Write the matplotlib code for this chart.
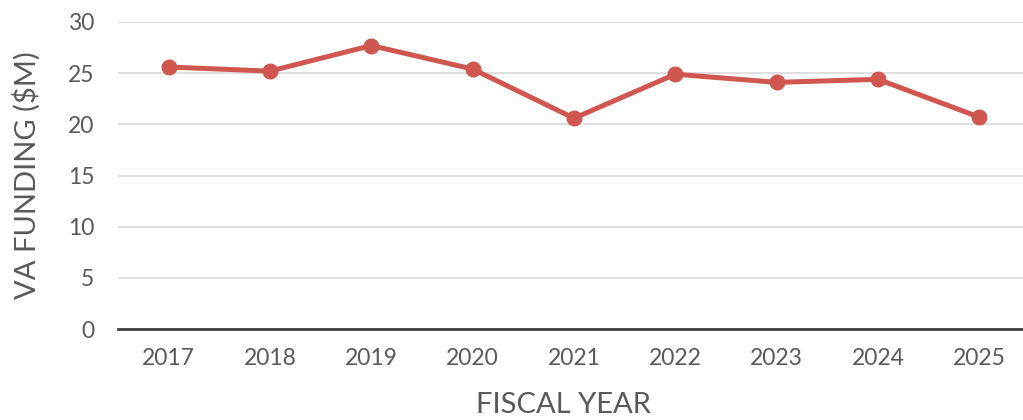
import matplotlib
matplotlib.use('Agg')
import matplotlib.pyplot as plt

plt.rcParams['font.family'] = ['Lato', 'DejaVu Sans']

years = ['2017', '2018', '2019', '2020', '2021', '2022', '2023', '2024', '2025']
funding = [25.6, 25.2, 27.7, 25.4, 20.6, 24.9, 24.1, 24.4, 20.7]

text_color = '#595959'
line_color = '#D0574F'

fig = plt.figure(figsize=(10.23, 4.2), dpi=100)
# axes runs a little past the right edge, like the original
ax = fig.add_axes([118/1023, 91/420, 912/1023, 307/420])

x = range(len(years))
ax.plot(x, funding, color=line_color, linewidth=3.6, marker='o',
        markersize=10.5, solid_capstyle='round', zorder=3)

ax.set_xlim(-0.5, len(years) - 0.5)
ax.set_ylim(0, 30)
ax.set_yticks(range(0, 31, 5))
ax.set_xticks(list(x))
ax.set_xticklabels(years)

ax.grid(axis='y', color='#D9D9D9', linewidth=1.2)
ax.set_axisbelow(True)
for s in ['top', 'right', 'left']:
    ax.spines[s].set_visible(False)
ax.spines['bottom'].set_color('#404040')
ax.spines['bottom'].set_linewidth(2)

ax.tick_params(axis='both', length=0, labelsize=16.5, colors=text_color)
ax.tick_params(axis='x', pad=14)
ax.tick_params(axis='y', pad=17)

ax.set_ylabel('VA FUNDING ($M)', fontsize=21, color=text_color)
ax.set_xlabel('FISCAL YEAR', fontsize=21, color=text_color)
ax.yaxis.set_label_coords(-91/912, 0.5)
ax.xaxis.set_label_coords((563-118)/912, -76/307)
ax.xaxis.label.set_va('center')
ax.yaxis.label.set_va('center')

fig.savefig('out.png', dpi=100)
